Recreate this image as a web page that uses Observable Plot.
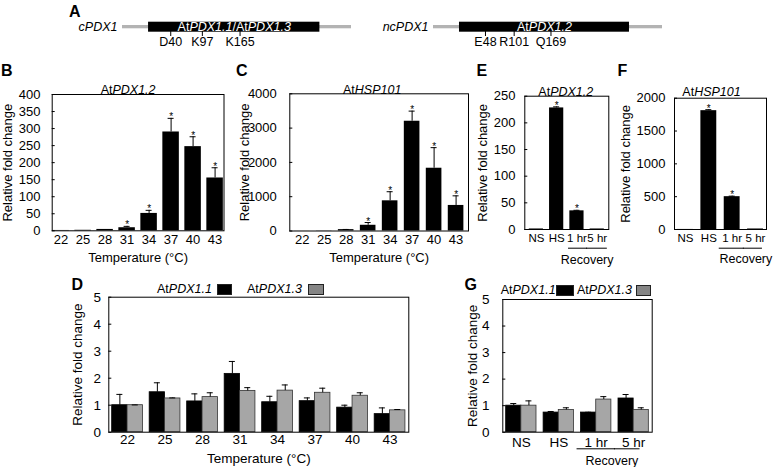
<!DOCTYPE html>
<html>
<head>
<meta charset="utf-8">
<script src="https://cdn.jsdelivr.net/npm/d3@7"></script>
<script src="https://cdn.jsdelivr.net/npm/@observablehq/plot@0.6"></script>
<style>
  body { margin: 0; background: #fff; font-family: Arial, "Liberation Sans", Helvetica, sans-serif; }
  #fig { position: relative; width: 773px; height: 467px; overflow: hidden; background: #fff; }
  .abs { position: absolute; }
  .letter { position: absolute; font-weight: bold; font-size: 16px; line-height: 16px; }
  .leg { position: absolute; font-size: 12.5px; line-height: 13px; white-space: nowrap; }
  .sw { position: absolute; box-sizing: border-box; }
</style>
</head>
<body>
<div id="fig"></div>
<script>
// ---------------- data ----------------
// Panel A: protein diagrams (residue positions)
const protNames = ["cPDX1", "ncPDX1"];
const protLabels = ["AtPDX1.1/AtPDX1.3", "AtPDX1.2"];
const protLengths = [309, 314];
const utr5 = [47, 48];
const utr3 = [57, 61];
const sitesC = [["D40", 40], ["K97", 97], ["K165", 165]];
const sitesNC = [["E48", 48], ["R101", 101], ["Q169", 169]];

// Panels B, C: temperature series
const temps = ["22", "25", "28", "31", "34", "37", "40", "43"];
const pdx12Temp    = [1, 1.5, 4, 9, 51, 290, 247, 155];
const pdx12TempErr = [0, 0, 0, 4, 9, 40, 29, 30];
const pdx12TempSig = [false, false, false, true, true, true, true, true];
const hsp101Temp    = [2, 5, 40, 167, 880, 3200, 1830, 745];
const hsp101TempErr = [0, 0, 5, 80, 265, 295, 600, 280];
const hsp101TempSig = [false, false, false, true, true, true, true, true];

// Panels E, F: heat stress / recovery
const treatments = ["NS", "HS", "1 hr", "5 hr"];
const recoveryCats = ["1 hr", "5 hr"];
const pdx12Treat    = [1, 228, 35, 1];
const pdx12TreatErr = [0, 2, 1, 0];
const hsp101Treat    = [1, 1810, 500, 8];
const hsp101TreatErr = [0, 15, 8, 0];
const treatSig = [false, true, true, false];

// Panels D, G: AtPDX1.1 / AtPDX1.3
const seriesNames = ["AtPDX1.1", "AtPDX1.3"];
const pdx11Temp    = [1.0, 1.48, 1.14, 2.16, 1.11, 1.15, 0.91, 0.67];
const pdx11TempErr = [0.40, 0.35, 0.28, 0.46, 0.22, 0.12, 0.09, 0.23];
const pdx13Temp    = [1.0, 1.25, 1.30, 1.53, 1.54, 1.46, 1.35, 0.81];
const pdx13TempErr = [0.01, 0.02, 0.16, 0.12, 0.21, 0.17, 0.11, 0.03];
const pdx11Treat    = [1.0, 0.74, 0.74, 1.27];
const pdx11TreatErr = [0.08, 0.04, 0.01, 0.15];
const pdx13Treat    = [1.0, 0.84, 1.23, 0.84];
const pdx13TreatErr = [0.18, 0.08, 0.11, 0.08];

// ---------------- helpers ----------------
const FONT = "Arial, 'Liberation Sans', Helvetica, sans-serif";
const GRAY = "#a6a6a6";
const GRAY_SW = "#858585";
const fig = document.getElementById("fig");

function place(node, left, top) {
  const d = document.createElement("div");
  d.className = "abs";
  d.style.left = left + "px";
  d.style.top = top + "px";
  d.appendChild(node);
  fig.appendChild(d);
}
function italicGenes(svg) {
  d3.select(svg).selectAll("text").each(function () {
    const t = this.textContent;
    if (/At[A-Z]/.test(t) && this.children.length === 0) {
      this.innerHTML = t.replace(/At([A-Z][A-Za-z0-9.]*)/g, 'At<tspan font-style="italic">$1</tspan>');
    }
  });
  return svg;
}
function letter(ch, left, top) {
  const d = document.createElement("div");
  d.className = "letter";
  d.style.left = left + "px"; d.style.top = top + "px";
  d.textContent = ch;
  fig.appendChild(d);
}
function geneHTML(name) {
  return name.replace(/At([A-Z][A-Za-z0-9.]*)/g, "At<i>$1</i>");
}
function legendItem(name, color, tx, sx, sw, top) {
  const t = document.createElement("div");
  t.className = "leg";
  t.style.left = tx + "px"; t.style.top = top + "px";
  t.innerHTML = geneHTML(name);
  fig.appendChild(t);
  const s = document.createElement("div");
  s.className = "sw";
  s.style.cssText += `left:${sx}px;top:${top + 1}px;width:${sw}px;height:11px;background:${color};border:1px solid #222;`;
  fig.appendChild(s);
}
const baseStyle = (fs) => ({fontFamily: FONT, fontSize: fs + "px", overflow: "visible", background: "transparent", color: "black"});

// ---------------- Panel A ----------------
function protPlot(i, sites, o) {
  const len = protLengths[i];
  return italicGenes(Plot.plot({
    width: o.width, height: 60,
    marginLeft: o.mL, marginRight: o.mR, marginTop: 21.7, marginBottom: 28.3,
    x: {domain: [-utr5[i], len + utr3[i]], axis: null},
    style: baseStyle(12.5),
    marks: [
      Plot.barX([i], {x1: () => -utr5[i], x2: () => len + utr3[i], fill: "#b3b3b3", insetTop: 3.3, insetBottom: 3.4}),
      Plot.barX([i], {x1: () => 0, x2: () => len, fill: "black"}),
      Plot.tickX(sites, {x: d => d[1], stroke: "black", insetTop: 5, dy: 4.3}),
      Plot.text(sites, {x: d => d[1], text: d => d[0], frameAnchor: "bottom", dy: 13.3, fontSize: 12.5}),
      Plot.text([protNames[i]], {x: () => -utr5[i], textAnchor: "end", dx: -5, fontStyle: "italic", fontSize: 12.5}),
      Plot.text([protLabels[i]], {x: () => len / 2, fill: "white", fontSize: 12.5, dy: 0})
    ]
  }));
}
place(protPlot(0, sitesC, {width: 380, mL: 122, mR: 29}), 0, 0);
place(protPlot(1, sitesNC, {width: 393, mL: 53, mR: 111}), 380, 0);
letter("A", 69, 4);

// ---------------- single-bar panels ----------------
function simplePanel(o) {
  const data = o.cats.map((c, i) => ({cat: c, v: o.vals[i], e: o.errs[i], s: o.sig[i]}));
  const withErr = data.filter(d => d.e > 0);
  const innerW = o.width - o.mL - o.mR;
  const step = innerW / (o.cats.length - o.pi + 2 * o.po);
  const bw = step * (1 - o.pi);
  const gap = step - bw;
  const cap = 3;
  const marks = [
    Plot.barY(data, {x: "cat", y: "v", fill: "black"}),
    Plot.ruleX(withErr, {x: "cat", y1: "v", y2: d => d.v + d.e, stroke: "black", strokeWidth: 1}),
    Plot.tickY(withErr, {x: "cat", y: d => d.v + d.e, insetLeft: bw / 2 - cap, insetRight: bw / 2 - cap, strokeWidth: 1}),
    Plot.text(data.filter(d => d.s), {x: "cat", y: d => d.v + d.e, text: () => "*", fontSize: 10, lineAnchor: "bottom", dy: 2}),
    Plot.frame({stroke: "black", strokeWidth: 1}),
    Plot.axisX({tickSize: 0, tickPadding: o.xPad, label: o.xLabel ?? null, labelAnchor: "center", labelOffset: o.xLabelOffset, labelArrow: "none", fontSize: o.xFs}),
    Plot.axisY({ticks: o.yTicks, tickFormat: "d", tickSize: -3, tickPadding: o.yPad, label: "Relative fold change", labelAnchor: "center", labelOffset: o.yLabelOffset, labelArrow: "none", fontSize: 13}),
    Plot.text([o.title], {frameAnchor: "top", dx: o.titleDx, dy: o.titleDy, fontSize: 12.5})
  ];
  if (o.recovery) {
    const r = o.recovery;
    marks.push(
      Plot.tickY([o.recoveryCats[0]], {x: d => d, y: () => 0, dy: r.ulDy, insetLeft: -r.extraL, insetRight: -(gap / 2 + 0.5)}),
      Plot.tickY([o.recoveryCats[1]], {x: d => d, y: () => 0, dy: r.ulDy, insetLeft: -(gap / 2 + 0.5), insetRight: -r.extraR}),
      Plot.text(["Recovery"], {x: () => o.recoveryCats[0], y: () => 0, dx: step / 2 + r.dx, dy: r.textDy, fontSize: 12.5})
    );
  }
  return italicGenes(Plot.plot({
    width: o.width, height: o.height,
    marginLeft: o.mL, marginRight: o.mR, marginTop: o.mT, marginBottom: o.mB,
    x: {type: "band", domain: o.cats, paddingInner: o.pi, paddingOuter: o.po, round: false},
    y: {domain: o.yDomain, nice: false},
    style: baseStyle(12.5),
    marks
  }));
}

// B
place(simplePanel({
  cats: temps, vals: pdx12Temp, errs: pdx12TempErr, sig: pdx12TempSig,
  width: 230, height: 205, mL: 51.7, mR: 6.5, mT: 34, mB: 34.7, pi: 0.25, po: 0.03,
  yDomain: [0, 400], yTicks: d3.range(0, 401, 50), yPad: 14.7, yLabelOffset: 49.7,
  xPad: 3.5, xFs: 13, xLabel: "Temperature (°C)", xLabelOffset: 30.7,
  title: "AtPDX1.2", titleDx: -10, titleDy: -9
}), 0, 60);
letter("B", 1, 63);

// C
place(simplePanel({
  cats: temps, vals: hsp101Temp, errs: hsp101TempErr, sig: hsp101TempSig,
  width: 240, height: 205, mL: 57.3, mR: 4, mT: 33.3, mB: 34.5, pi: 0.29, po: 0.21,
  yDomain: [0, 4000], yTicks: d3.range(0, 4001, 1000), yPad: 16, yLabelOffset: 50.3,
  xPad: 3.5, xFs: 13, xLabel: "Temperature (°C)", xLabelOffset: 30.7,
  title: "AtHSP101", titleDx: -7, titleDy: -9
}), 232, 60);
letter("C", 236, 63);

// E
place(simplePanel({
  cats: treatments, vals: pdx12Treat, errs: pdx12TreatErr, sig: treatSig,
  width: 142, height: 205, mL: 52.3, mR: 5.7, mT: 35.7, mB: 36, pi: 0.3, po: 0.22,
  yDomain: [0, 250], yTicks: d3.range(0, 251, 50), yPad: 12.3, yLabelOffset: 47.3,
  xPad: 4.5, xFs: 11.5, xLabel: null,
  title: "AtPDX1.2", titleDx: -1, titleDy: -9,
  recoveryCats, recovery: {ulDy: 18.7, extraL: 1.3, extraR: 3, dx: 0, textDy: 30}
}), 472, 60);
letter("E", 476.5, 63);

// F
place(simplePanel({
  cats: treatments, vals: hsp101Treat, errs: hsp101TreatErr, sig: treatSig,
  width: 159, height: 205, mL: 60, mR: 7, mT: 37.7, mB: 36, pi: 0.32, po: 0.13,
  yDomain: [0, 2000], yTicks: d3.range(0, 2001, 500), yPad: 12, yLabelOffset: 54,
  xPad: 4.5, xFs: 11.5, xLabel: null,
  title: "AtHSP101", titleDx: -9, titleDy: -10.7,
  recoveryCats, recovery: {ulDy: 18.7, extraL: 5, extraR: -1, dx: 2, textDy: 29}
}), 614, 60);
letter("F", 617.5, 63);

// ---------------- grouped panels ----------------
function groupPanel(o) {
  const data = o.cats.map((c, i) => ({cat: c, a: o.a[i], ae: o.ae[i], b: o.b[i], be: o.be[i]}));
  const innerW = o.width - o.mL - o.mR;
  const step = innerW / (o.cats.length - o.pi + 2 * o.po);
  const bw = step * (1 - o.pi);
  const gap = step - bw;
  const half = bw / 2, q = bw / 4, cap = 3;
  const marks = [
    Plot.barY(data, {x: "cat", y: "a", fill: "black", stroke: "black", strokeWidth: 0.8, insetRight: half}),
    Plot.barY(data, {x: "cat", y: "b", fill: GRAY, stroke: "#333", strokeWidth: 0.8, insetLeft: half}),
    Plot.ruleX(data, {x: "cat", y1: "a", y2: d => d.a + d.ae, dx: -q, stroke: "black"}),
    Plot.tickY(data, {x: "cat", y: d => d.a + d.ae, insetLeft: q - cap, insetRight: bw - q - cap, stroke: "black"}),
    Plot.ruleX(data, {x: "cat", y1: "b", y2: d => d.b + d.be, dx: q, stroke: "black"}),
    Plot.tickY(data, {x: "cat", y: d => d.b + d.be, insetLeft: 3 * q - cap, insetRight: q - cap, stroke: "black"}),
    Plot.frame({stroke: "black", strokeWidth: 1}),
    Plot.axisX({tickSize: 0, tickPadding: o.xPad, label: o.xLabel ?? null, labelAnchor: "center", labelOffset: o.xLabelOffset, labelArrow: "none", fontSize: o.tickFs}),
    Plot.axisY({ticks: d3.range(0, 6), tickFormat: "d", tickSize: -3, tickPadding: o.yPad, label: "Relative fold change", labelAnchor: "center", labelOffset: o.yLabelOffset, labelArrow: "none", fontSize: o.tickFs})
  ];
  if (o.recovery) {
    const r = o.recovery;
    marks.push(
      Plot.tickY([o.recoveryCats[0]], {x: d => d, y: () => 0, dy: r.ulDy, insetLeft: -r.extraL, insetRight: -(gap / 2 + 0.5)}),
      Plot.tickY([o.recoveryCats[1]], {x: d => d, y: () => 0, dy: r.ulDy, insetLeft: -(gap / 2 + 0.5), insetRight: -r.extraR}),
      Plot.text(["Recovery"], {x: () => o.recoveryCats[0], y: () => 0, dx: step / 2 + r.dx, dy: r.textDy, fontSize: 12.5})
    );
  }
  return Plot.plot({
    width: o.width, height: o.height,
    marginLeft: o.mL, marginRight: o.mR, marginTop: o.mT, marginBottom: o.mB,
    x: {type: "band", domain: o.cats, paddingInner: o.pi, paddingOuter: o.po, round: false},
    y: {domain: [0, 5], nice: false},
    style: baseStyle(12.5),
    marks
  });
}

// D
place(groupPanel({
  cats: temps, a: pdx11Temp, ae: pdx11TempErr, b: pdx13Temp, be: pdx13TempErr,
  width: 360, height: 197, mL: 48.3, mR: 11.7, mT: 26.7, mB: 35.3, pi: 0.18, po: 0.09,
  yPad: 10.8, yLabelOffset: 36.3, xPad: 2.5, tickFs: 13.5,
  xLabel: "Temperature (°C)", xLabelOffset: 31
}), 60, 270);
letter("D", 71.5, 277);
legendItem(seriesNames[0], "black", 157, 217, 15, 283);
legendItem(seriesNames[1], GRAY_SW, 247, 308, 16, 283);

// G
place(groupPanel({
  cats: treatments, a: pdx11Treat, ae: pdx11TreatErr, b: pdx13Treat, be: pdx13TreatErr,
  width: 205, height: 197, mL: 47.3, mR: 8.3, mT: 29, mB: 35.3, pi: 0.19, po: 0.09,
  yPad: 16.3, yLabelOffset: 35.3, xPad: 5, tickFs: 13.5, xLabel: null,
  recoveryCats, recovery: {ulDy: 16.6, extraL: 4, extraR: -8.8, dx: -3, textDy: 28.3}
}), 455, 270);
letter("G", 464.5, 277);
legendItem(seriesNames[0], "black", 500.7, 556, 18, 284);
legendItem(seriesNames[1], GRAY_SW, 577, 636, 15, 284);
</script>
</body>
</html>
